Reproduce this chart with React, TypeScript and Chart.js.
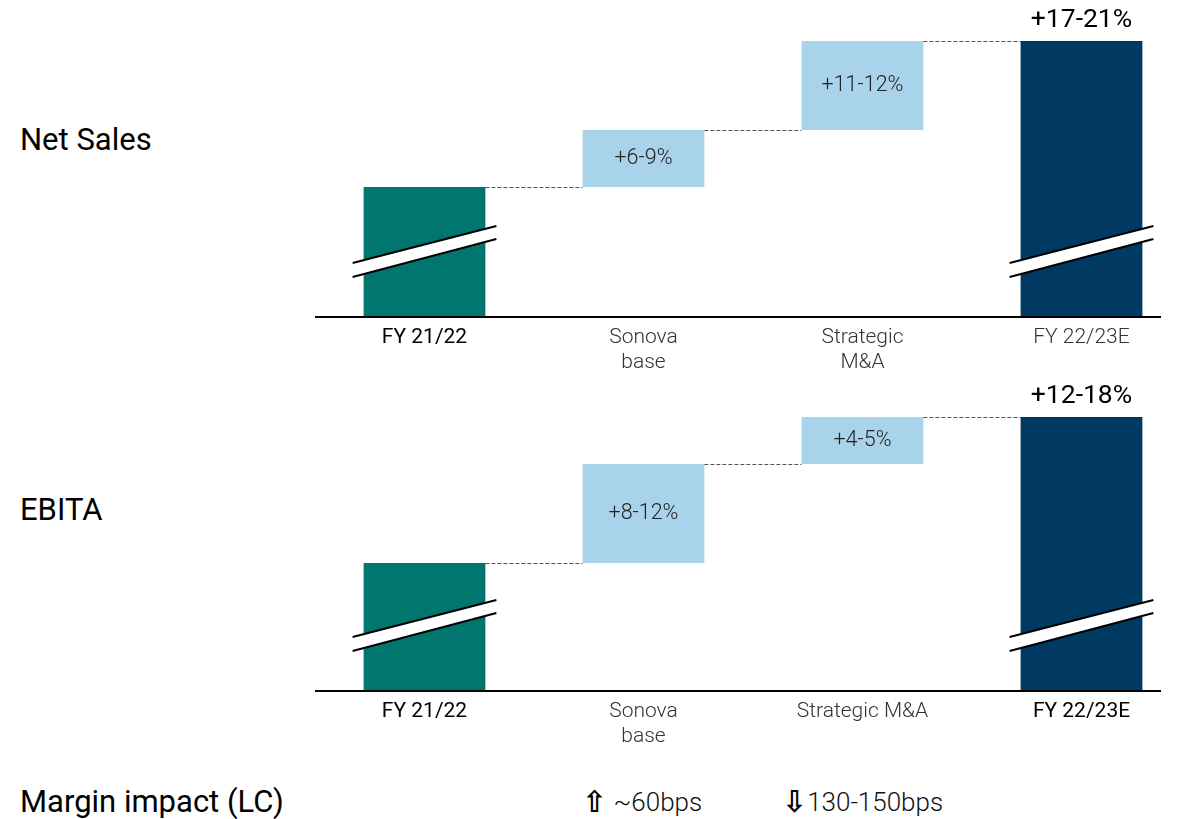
import React, { useEffect, useRef } from "react";
import { Chart, registerables } from "chart.js";

Chart.register(...registerables);

// ---------- data ----------
const salesCategories: string[][] = [["FY 21/22"], ["Sonova", "base"], ["Strategic", "M&A"], ["FY 22/23E"]];
const ebitaCategories: string[][] = [["FY 21/22"], ["Sonova", "base"], ["Strategic M&A"], ["FY 22/23E"]];

// floating bar ranges [start, end] (visual heights, broken axis)
const salesRanges: [number, number][] = [[0, 129], [129, 186], [186, 275], [0, 275]];
const ebitaRanges: [number, number][] = [[0, 127], [127, 226], [226, 273], [0, 273]];

const salesBarLabels = ["", "+6-9%", "+11-12%", "+17-21%"];
const ebitaBarLabels = ["", "+8-12%", "+4-5%", "+12-18%"];

const salesEmphasis = [true, false, false, false];
const ebitaEmphasis = [true, false, false, true];

const breakBars = [0, 3];
const barColors = ["#00766F", "#A9D3EA", "#A9D3EA", "#003A62"];

const marginImpacts = [
  { arrow: "\u21E7", text: " ~60bps" },
  { arrow: "\u21E9", text: "130-150bps" },
];

// ---------- chart ----------
type WProps = {
  categories: string[][];
  ranges: [number, number][];
  barLabels: string[];
  emphasis: boolean[];
  top: number;
  height: number;
  axisY: number; // axis position within canvas
};

const CANVAS_LEFT = 300;
const CANVAS_W = 897;

function Waterfall(props: WProps) {
  const ref = useRef<HTMLCanvasElement | null>(null);
  useEffect(() => {
    const canvas = ref.current;
    if (!canvas) return;
    const { categories, ranges, barLabels, emphasis, height, axisY } = props;

    const overlay = {
      id: "waterfallOverlay",
      afterDatasetsDraw(chart: any) {
        const ctx = chart.ctx as CanvasRenderingContext2D;
        const meta = chart.getDatasetMeta(0);
        const yScale = chart.scales.y;
        const area = chart.chartArea;
        const bars = meta.data.map((el: any) => el.getProps(["x", "y", "base", "width"], true));
        ctx.save();

        // break marks
        breakBars.forEach((i) => {
          const b = bars[i];
          const l = b.x - b.width / 2 - 11;
          const r = b.x + b.width / 2 + 11;
          const base = yScale.getPixelForValue(0);
          const ul = base - 53, ur = base - 90, ll = base - 39, lr = base - 77;
          ctx.fillStyle = "#ffffff";
          ctx.beginPath();
          ctx.moveTo(l, ul);
          ctx.lineTo(r, ur);
          ctx.lineTo(r, lr);
          ctx.lineTo(l, ll);
          ctx.closePath();
          ctx.fill();
          ctx.strokeStyle = "#000";
          ctx.lineWidth = 2;
          ctx.beginPath();
          ctx.moveTo(l, ul);
          ctx.lineTo(r, ur);
          ctx.moveTo(l, ll);
          ctx.lineTo(r, lr);
          ctx.stroke();
        });

        // dashed connectors
        ctx.strokeStyle = "#555";
        ctx.lineWidth = 1;
        ctx.setLineDash([4, 2]);
        for (let i = 0; i < bars.length - 1; i++) {
          const y = Math.round(yScale.getPixelForValue(ranges[i][1])) + 0.5;
          const x1 = bars[i].x + bars[i].width / 2;
          const x2 = bars[i + 1].x - bars[i + 1].width / 2;
          ctx.beginPath();
          ctx.moveTo(x1, y);
          ctx.lineTo(x2, y);
          ctx.stroke();
        }
        ctx.setLineDash([]);

        // axis line
        ctx.strokeStyle = "#000";
        ctx.lineWidth = 2;
        ctx.beginPath();
        ctx.moveTo(area.left, area.bottom + 1);
        ctx.lineTo(area.right - 30, area.bottom + 1);
        ctx.stroke();

        // bar labels
        ctx.textAlign = "center";
        ctx.textBaseline = "middle";
        bars.forEach((b: any, i: number) => {
          const txt = barLabels[i];
          if (!txt) return;
          if (i === bars.length - 1) {
            ctx.font = "400 26.5px Roboto";
            ctx.fillStyle = "#000";
            ctx.fillText(txt, b.x, Math.min(b.y, b.base) - 21);
          } else {
            ctx.font = "300 21.5px Roboto";
            ctx.fillStyle = "#222";
            ctx.fillText(txt, b.x, (b.y + b.base) / 2);
          }
        });

        // category labels
        bars.forEach((b: any, i: number) => {
          const lines = categories[i];
          ctx.font = emphasis[i] ? "400 21px Roboto" : "300 21px Roboto";
          ctx.fillStyle = emphasis[i] ? "#000" : "#333";
          lines.forEach((ln, k) => {
            ctx.fillText(ln, b.x, area.bottom + 21.5 + k * 25);
          });
        });
        ctx.restore();
      },
    };

    const chart = new Chart(canvas, {
      type: "bar",
      data: {
        labels: categories.map((c) => c.join(" ")),
        datasets: [
          {
            data: ranges as any,
            backgroundColor: barColors,
            borderWidth: 0,
            barPercentage: 0.556,
            categoryPercentage: 1,
          },
        ],
      },
      options: {
        animation: false,
        responsive: false,
        maintainAspectRatio: false,
        layout: { padding: { left: 15, right: 6, top: 0, bottom: height - axisY } },
        scales: {
          x: { display: false },
          y: { display: false, min: 0, max: axisY },
        },
        plugins: { legend: { display: false }, tooltip: { enabled: false } },
      },
      plugins: [overlay],
    });
    return () => chart.destroy();
  }, []);

  return (
    <canvas
      ref={ref}
      width={CANVAS_W}
      height={props.height}
      style={{ position: "absolute", left: CANVAS_LEFT, top: props.top, width: CANVAS_W, height: props.height }}
    />
  );
}

const leftLabel: React.CSSProperties = {
  position: "absolute",
  left: 20,
  fontFamily: "Roboto",
  fontSize: 31,
  lineHeight: "36px",
  color: "#000",
  whiteSpace: "nowrap",
};

export default function App() {
  return (
    <div
      style={{
        position: "absolute",
        left: 0,
        top: 0,
        width: 1197,
        height: 819,
        overflow: "hidden",
        background: "#fff",
      }}
    >
      <Waterfall
        categories={salesCategories}
        ranges={salesRanges}
        barLabels={salesBarLabels}
        emphasis={salesEmphasis}
        top={0}
        height={380}
        axisY={316}
      />
      <Waterfall
        categories={ebitaCategories}
        ranges={ebitaRanges}
        barLabels={ebitaBarLabels}
        emphasis={ebitaEmphasis}
        top={380}
        height={380}
        axisY={310}
      />
      <div style={{ ...leftLabel, top: 122 }}>Net Sales</div>
      <div style={{ ...leftLabel, top: 492 }}>EBITA</div>
      <div style={{ ...leftLabel, top: 784 }}>Margin impact (LC)</div>
      {marginImpacts.map((m, i) => (
        <div
          key={i}
          style={{
            position: "absolute",
            left: i === 0 ? 582 : 782,
            top: 786,
            height: 32,
            display: "flex",
            alignItems: "center",
            whiteSpace: "pre",
            color: "#000",
          }}
        >
          <span style={{ fontFamily: "DejaVu Sans", fontWeight: 700, fontSize: 30, lineHeight: "32px" }}>{m.arrow}</span>
          <span style={{ fontFamily: "Roboto", fontWeight: 300, fontSize: 26, lineHeight: "32px", color: "#111" }}>{m.text}</span>
        </div>
      ))}
    </div>
  );
}
